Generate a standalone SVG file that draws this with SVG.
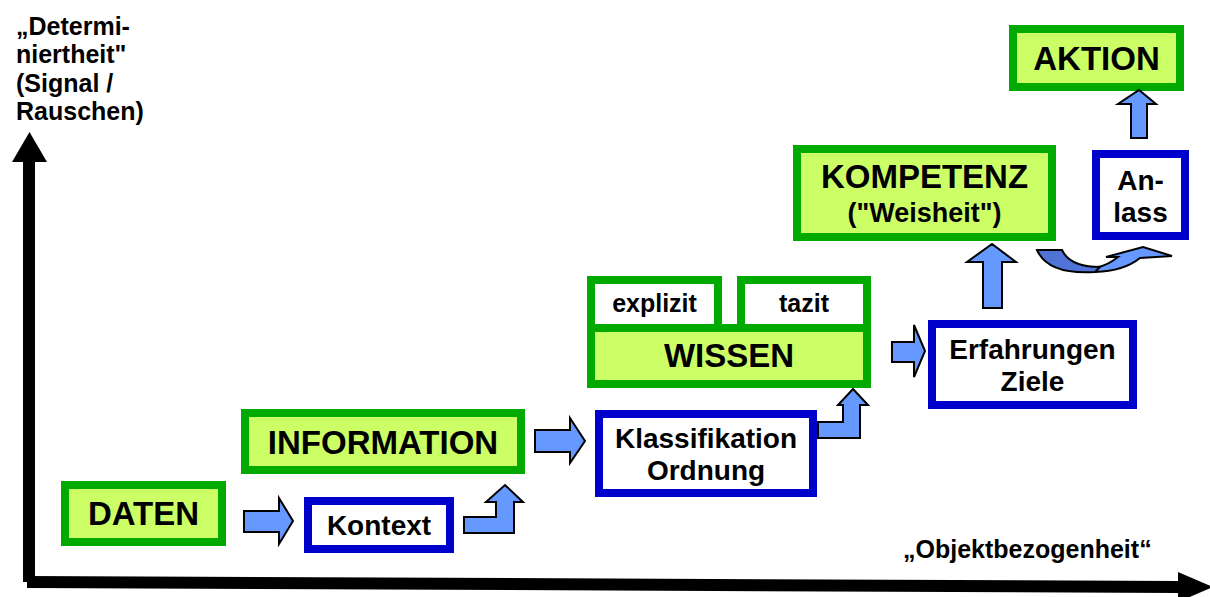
<svg xmlns="http://www.w3.org/2000/svg" width="1210" height="597" viewBox="0 0 1210 597">
  <style>
    text { font-family: "Liberation Sans", Arial, sans-serif; font-weight: bold; fill: #000; }
    .lbl { font-size: 25px; }
    .big { font-size: 33px; text-anchor: middle; }
    .mid { font-size: 28px; text-anchor: middle; }
    .sml { font-size: 25px; text-anchor: middle; }
    .green { fill: #CCFF66; stroke: #00AA00; stroke-width: 8; }
    .blue { fill: #FFFFFF; stroke: #0000CC; stroke-width: 8; }
    .white-green { fill: #FFFFFF; stroke: #00AA00; stroke-width: 8; }
    .arrow { fill: #6699FF; stroke: #000; stroke-width: 2; stroke-linejoin: miter; }
    .arrow-dark { fill: #4F73D6; stroke: #000; stroke-width: 2; }
    .axis { fill: #000; }
  </style>

  <!-- axes -->
  <g id="axes">
    <polygon class="axis" points="23,582 23,162 12,162 29.5,132 47,162 35,162 35,582"/>
    <polygon class="axis" points="27,576 1178,581 1178,572 1213,587 1178,602 1178,593 27,588"/>
    <text class="lbl" x="16" y="35">„Determi-</text>
    <text class="lbl" x="16" y="63">niertheit"</text>
    <text class="lbl" x="16" y="92">(Signal /</text>
    <text class="lbl" x="16" y="120">Rauschen)</text>
    <text class="lbl" x="903" y="558">„Objektbezogenheit“</text>
  </g>

  <!-- nodes -->
  <g id="daten">
    <rect class="green" x="65" y="485" width="157" height="57"/>
    <text class="big" x="143.5" y="525">DATEN</text>
  </g>
  <g id="kontext">
    <rect class="blue" x="308" y="501" width="142" height="48"/>
    <text class="mid" x="379" y="535">Kontext</text>
  </g>
  <g id="information">
    <rect class="green" x="245" y="413" width="276" height="57"/>
    <text class="big" x="383" y="454">INFORMATION</text>
  </g>
  <g id="klassifikation">
    <rect class="blue" x="599" y="414" width="214" height="79"/>
    <text class="mid" x="706" y="448">Klassifikation</text>
    <text class="mid" x="706" y="480">Ordnung</text>
  </g>
  <g id="explizit">
    <rect class="white-green" x="591" y="280" width="127" height="48"/>
    <text class="sml" x="654.5" y="312">explizit</text>
  </g>
  <g id="tazit">
    <rect class="white-green" x="741" y="280" width="126" height="48"/>
    <text class="sml" x="804" y="312">tazit</text>
  </g>
  <g id="wissen">
    <rect class="green" x="591" y="328" width="276" height="56"/>
    <text class="big" x="729" y="367">WISSEN</text>
  </g>
  <g id="erfahrungen">
    <rect class="blue" x="932" y="324" width="201" height="81"/>
    <text class="mid" x="1032.5" y="359">Erfahrungen</text>
    <text class="mid" x="1032.5" y="391">Ziele</text>
  </g>
  <g id="kompetenz">
    <rect class="green" x="797" y="149" width="255" height="88"/>
    <text class="big" x="924.5" y="188">KOMPETENZ</text>
    <text class="mid" x="924.5" y="222" style="font-size:27px">("Weisheit")</text>
  </g>
  <g id="anlass">
    <rect class="blue" x="1096" y="154" width="89" height="82"/>
    <text class="mid" x="1140.5" y="190">An-</text>
    <text class="mid" x="1140.5" y="222">lass</text>
  </g>
  <g id="aktion">
    <rect class="green" x="1013" y="29" width="167" height="58"/>
    <text class="big" x="1096.5" y="70">AKTION</text>
  </g>

  <!-- connectors -->
  <g id="connectors">
    <polygon class="arrow" points="244,511 279,511 279,498 293,521 279,544 279,532 244,532"/>
    <polygon class="arrow" points="464,517 496,517 496,502 486,502 505,485 523,502 514,502 514,533 464,533"/>
    <polygon class="arrow" points="535,430 570,430 570,418 585,441 570,463 570,452 535,452"/>
    <polygon class="arrow" points="818,422 843,422 843,405 838,405 853,389 868,405 860,405 860,438 818,438"/>
    <polygon class="arrow" points="892,342 914,342 914,325 925,351 914,377 914,362 892,362"/>
    <polygon class="arrow" points="983,308 983,262 967,262 992,244 1016,262 1002,262 1002,308"/>
    <polygon class="arrow" points="1131,138 1131,104 1118,104 1139,90 1156,104 1147,104 1147,138"/>
    <!-- curved arrow from KOMPETENZ towards Anlass -->
    <path class="arrow" d="M1095,272 Q1124,271 1140,258 L1172,256 L1143,247 L1106,257 L1118,257 Q1108,265 1098,267 Z"/>
    <path class="arrow-dark" d="M1037,250 L1062,250 Q1070,267 1100,267 L1095,272 Q1048,275 1037,250 Z"/>
  </g>
</svg>
